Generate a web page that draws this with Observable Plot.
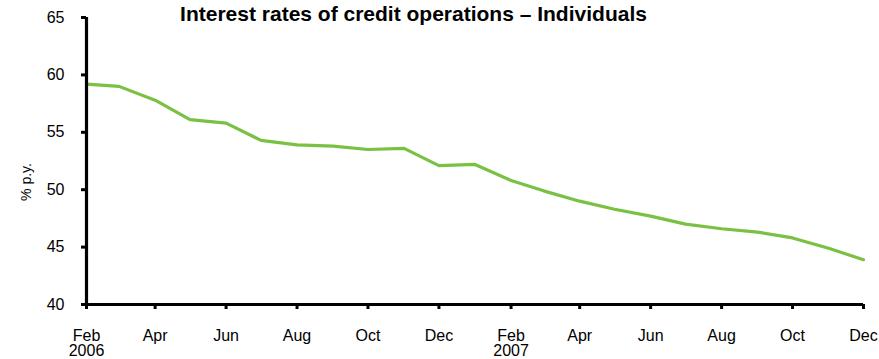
<!DOCTYPE html>
<html>
<head>
<meta charset="utf-8">
<script src="https://cdn.jsdelivr.net/npm/d3@7"></script>
<script src="https://cdn.jsdelivr.net/npm/@observablehq/plot@0.6"></script>
<style>
  html, body { margin: 0; padding: 0; background: #fff; }
  #wrap { position: relative; width: 879px; height: 359px; }
  #chart svg { display: block; }
  #ylab { position: absolute; left: 26px; top: 182px; transform: translate(-50%, -50%) rotate(-90deg);
    font-family: 'Liberation Sans', Arial, sans-serif; font-size: 14px; color: #000; white-space: nowrap; line-height: 1; }
</style>
</head>
<body>
<div id="wrap"><div id="chart"></div><div id="ylab"></div></div>
<script>
const months = ["2006-02","2006-03","2006-04","2006-05","2006-06","2006-07","2006-08","2006-09","2006-10","2006-11","2006-12",
  "2007-01","2007-02","2007-03","2007-04","2007-05","2007-06","2007-07","2007-08","2007-09","2007-10","2007-11","2007-12"];
const rates = [59.2, 59.0, 57.8, 56.1, 55.8, 54.3, 53.9, 53.8, 53.5, 53.6, 52.1,
  52.2, 50.8, 49.9, 49.0, 48.3, 47.7, 47.0, 46.6, 46.3, 45.8, 44.9, 43.9];
const xTicks = ["2006-02","2006-04","2006-06","2006-08","2006-10","2006-12","2007-02","2007-04","2007-06","2007-08","2007-10","2007-12"];
const yTicks = [40, 45, 50, 55, 60, 65];
const title = "Interest rates of credit operations – Individuals";
const yLabel = "% p.y.";

const parse = d3.utcParse("%Y-%m");
const data = months.map((m, i) => ({date: parse(m), value: rates[i]}));
const monthNames = ["Jan","Feb","Mar","Apr","May","Jun","Jul","Aug","Sep","Oct","Nov","Dec"];
const fmt = d => monthNames[d.getUTCMonth()] + (d.getUTCMonth() === 1 ? "\n" + d.getUTCFullYear() : "");

const chart = Plot.plot({
  width: 879,
  height: 359,
  marginTop: 17,
  marginLeft: 86,
  marginRight: 16,
  marginBottom: 55,
  style: {fontFamily: "'Liberation Sans', Arial, sans-serif", fontSize: "16px", color: "#000", background: "#fff"},
  x: {type: "utc", domain: [parse(months[0]), parse(months[months.length - 1])]},
  y: {domain: [40, 65]},
  marks: [
    Plot.axisX(xTicks.map(parse), {tickFormat: fmt, tickSize: 5, tickPadding: 20, strokeWidth: 3, fontSize: 16, label: null, lineHeight: 0.98}),
    Plot.axisY(yTicks, {tickSize: 5, tickPadding: 17, strokeWidth: 3, fontSize: 16, label: null}),
    Plot.lineY(data, {x: "date", y: "value", stroke: "#7ac143", strokeWidth: 3.2}),
    Plot.ruleY([40], {stroke: "#000", strokeWidth: 3.2}),
    Plot.ruleX([parse(months[0])], {stroke: "#000", strokeWidth: 3.2}),
    Plot.text([title], {frameAnchor: "top-left", dx: 327, dy: 3, lineAnchor: "bottom", textAnchor: "middle", fontWeight: "bold", fontSize: 21, fill: "#000"})
  ]
});
document.getElementById("chart").appendChild(chart);
document.getElementById("ylab").textContent = yLabel;
</script>
</body>
</html>
